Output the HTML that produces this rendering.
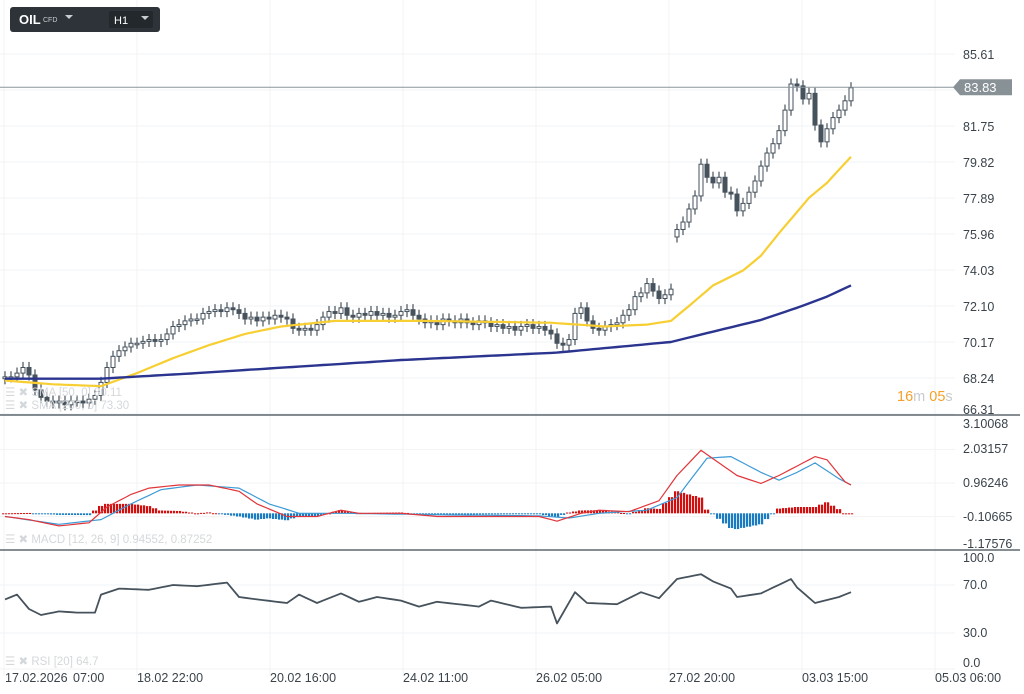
<!DOCTYPE html>
<html><head><meta charset="utf-8"><style>
body{margin:0;background:#fff;width:1024px;height:694px;overflow:hidden;font-family:"Liberation Sans",sans-serif}
svg{position:absolute;left:0;top:0}
</style></head><body>
<svg id="c" width="1024" height="694"></svg>
<script>
// ---- data ----
const closes=[68.3,68.3,68.5,68.8,68.4,
67.6,67.2,67.0,66.9,67.0,66.8,67.0,67.0,66.9,67.1,67.3,
68.0,68.8,69.4,69.7,69.9,
70.1,70.1,70.2,70.3,70.2,70.3,
70.6,71.0,71.1,71.3,71.4,71.4,
71.7,71.8,71.9,71.8,72.0,71.9,71.7,
71.4,71.5,71.3,71.5,71.4,71.6,71.5,71.4,
70.9,70.8,70.9,70.8,71.1,
71.5,71.8,71.7,72.0,71.6,
71.5,71.7,71.6,71.8,71.6,71.7,71.5,71.6,71.8,
71.9,71.6,71.4,
71.2,71.3,71.1,71.4,71.3,71.2,71.4,71.2,71.1,71.3,
71.2,71.0,71.1,70.9,71.0,70.8,71.0,71.1,70.9,71.0,70.8,70.6,
70.1,70.0,70.3,
71.7,72.0,71.3,
70.9,70.8,71.0,71.1,71.2,
71.6,71.9,72.6,72.8,
73.3,72.9,72.5,72.7,73.0,
76.2,76.6,77.3,
78.0,79.7,79.0,
78.7,79.0,78.2,78.1,
77.2,77.6,78.2,
78.8,79.6,80.3,80.8,
81.5,82.6,84.0,
83.9,83.2,83.5,
81.8,80.9,81.6,
82.2,82.6,83.1,83.8];
const gapOpens={112:75.8};
const smaIdx=[0,8,16,22,28,34,40,46,55,70,91,100,107,111,114,118,123,126,129,134,137,141];
const sma50=[68.1,67.9,67.8,68.5,69.3,70.0,70.6,71.0,71.3,71.3,71.2,71.0,71.1,71.3,72.1,73.2,74.0,74.8,76.0,77.9,78.7,80.1];
const sma200Idx=[0,16,32,66,92,111,119,126,132,137,141];
const sma200=[68.2,68.2,68.5,69.2,69.6,70.17,70.8,71.35,72.0,72.6,73.2];
const macdIdx=[0,4,9,14,17,21,24,29,34,39,42,47,52,56,59,66,72,82,89,92,96,99,104,109,112,116,119,122,126,129,135,137,140,141];
const macdVals=[-0.1,-0.2,-0.4,-0.3,0.2,0.6,0.8,0.9,0.9,0.7,0.3,-0.1,-0.1,0.1,0.0,0.0,-0.1,-0.1,-0.1,-0.25,0.0,0.1,0.05,0.4,1.2,2.0,1.6,1.2,0.95,1.2,1.8,1.7,1.0,0.9];
const sigIdx=[0,9,16,21,26,32,39,44,49,57,74,89,94,99,107,112,117,121,126,129,132,135,139,141];
const sigVals=[-0.1,-0.35,-0.2,0.3,0.75,0.9,0.8,0.3,0.0,0.0,-0.05,-0.08,-0.15,0.0,0.1,0.5,1.75,1.8,1.3,1.05,1.3,1.6,1.1,0.9];
const rsiIdx=[0,2,4,6,9,12,15,16,19,24,28,32,37,39,42,47,49,52,56,59,62,66,69,72,79,81,86,91,92,95,97,102,106,109,112,116,118,121,122,126,131,132,135,139,141];
const rsiVals=[58,62,50,45,48,47,47,62,67,66,70,69,72,60,58,55,62,55,63,56,60,57,52,56,52,57,51,52,38,64,55,54,64,59,75,79,73,67,60,63,75,68,55,60,64];
const priceTicks=["85.61","83.68","81.75","79.82","77.89","75.96","74.03","72.10","70.17","68.24","66.31"];
const macdTicks=["3.10068","2.03157","0.96246","-0.10665","-1.17576"];
const rsiTicks=["100.0","70.0","30.0","0.0"];
const timeLabels=["18.02 22:00","20.02 16:00","24.02 11:00","26.02 05:00","27.02 20:00","03.03 15:00","05.03 06:00"];
// ---- scales ----
const X=i=>5+i*6;
const PY=p=>54+(85.61-p)*18.65;
const MY=v=>483+(0.96246-v)*31.5;
const RY=v=>669-v*1.2;
const NS="http://www.w3.org/2000/svg";
const svg=document.getElementById('c');
function mk(tag,a,parent){const e=document.createElementNS(NS,tag);for(const k in a)e.setAttribute(k,a[k]);(parent||svg).appendChild(e);return e;}
function interp(idx,vals,i){if(i<=idx[0])return vals[0];for(let k=1;k<idx.length;k++){if(i<=idx[k]){const t=(i-idx[k-1])/(idx[k]-idx[k-1]);return vals[k-1]+t*(vals[k]-vals[k-1]);}}return vals[vals.length-1];}
// grid
const grid=mk('g',{});


for(let k=0;k<8;k++){mk('line',{x1:4+k*133,x2:4+k*133,y1:0,y2:676,stroke:'#f2f3f5'},grid);}
priceTicks.forEach(t=>{const y=PY(parseFloat(t));mk('line',{x1:0,x2:955,y1:y,y2:y,stroke:'#f2f3f5'},grid);});
macdTicks.slice(1,4).forEach(t=>{const y=MY(parseFloat(t));mk('line',{x1:0,x2:955,y1:y,y2:y,stroke:'#f2f3f5'},grid);});
rsiTicks.slice(1).forEach(t=>{const y=RY(parseFloat(t));mk('line',{x1:0,x2:955,y1:y,y2:y,stroke:'#f2f3f5'},grid);});
// candles
const cg=mk('g',{});


closes.forEach((c,i)=>{
  const o=gapOpens[i]!==undefined?gapOpens[i]:(i?closes[i-1]:c-0.1);
  const hi=Math.max(o,c)+0.3, lo=Math.min(o,c)-0.3;
  const x=X(i);
  mk('line',{x1:x,x2:x,y1:PY(hi),y2:PY(lo),stroke:'#46525c','stroke-width':1.2},cg);
  const top=PY(Math.max(o,c)),h=Math.max(1.5,Math.abs(PY(o)-PY(c)));
  const r=mk('rect',{x:x-2,y:top,width:4,height:h,fill:c>=o?'#fff':'#46525c',stroke:'#46525c','stroke-width':1},cg);
  
  
});
function line(idx,vals,Y,col,w,name){let d='';for(let i=0;i<closes.length;i++){d+=(i?'L':'M')+X(i)+','+Y(interp(idx,vals,i)).toFixed(1);}
  const p=mk('path',{d:d,fill:'none',stroke:col,'stroke-width':w,'stroke-linejoin':'round'});}
line(smaIdx,sma50,PY,'#f7cf33',2.2,'sma-50-line');
line(sma200Idx,sma200,PY,'#2b3590',2.4,'sma-200-line');
// macd hist
const hg=mk('g',{});


for(let i=0;i<closes.length;i++){
  const h=interp(macdIdx,macdVals,i)-interp(sigIdx,sigVals,i);
  for(let s=0;s<2;s++){const x=X(i)-3+s*3;const y0=MY(0),y1=MY(h);
    mk('rect',{x:x,y:Math.min(y0,y1),width:2.2,height:Math.max(1,Math.abs(y1-y0)),fill:h>=0?'#d10f0f':'#1a7bc0'},hg);}
}
line(sigIdx,sigVals,MY,'#3c9ad6',1.2,'macd-signal-line');
line(macdIdx,macdVals,MY,'#e0353a',1.2,'macd-line');
line(rsiIdx,rsiVals,RY,'#46525c',1.8,'rsi-line');
// price line
const pl=mk('line',{x1:0,x2:957,y1:PY(83.83),y2:PY(83.83),stroke:'#8a959c'});

const pb=mk('path',{d:`M953 ${PY(83.83)} L960 ${PY(83.83)-8} L1012 ${PY(83.83)-8} L1012 ${PY(83.83)+8} L960 ${PY(83.83)+8}Z`,fill:'#879196'});

const pt=mk('text',{x:964,y:PY(83.83)+5,fill:'#fff','font-size':13});pt.textContent='83.83';
// separators
[415,550].forEach(y=>{const l=mk('line',{x1:0,x2:1020,y1:y,y2:y,stroke:'#3e4a55','stroke-width':1.3});});
// axis labels
function txt(s,x,y,name,extra){const t=mk('text',Object.assign({x:x,y:y,fill:'#3a434b','font-size':12.5},extra||{}));t.textContent=s;return t;}
priceTicks.forEach(t=>{if(t==='83.68')return;let y=PY(parseFloat(t))+5;if(t==='66.31')y=414;txt(t,963,y,'price-tick');});
const my=[428,453,487,521,548];macdTicks.forEach((t,k)=>txt(t,963,my[k],'macd-tick'));
const ry=[562,589,637,667];rsiTicks.forEach((t,k)=>txt(t,963,ry[k],'rsi-tick'));
txt('17.02.2026',5,682,'time-label');txt('07:00',73,682,'time-label');
timeLabels.forEach((t,k)=>txt(t,137+k*133,682,'time-label'));
// countdown
const cd=mk('text',{x:897,y:401,'font-size':14.5,fill:'#f5a02a'});
cd.innerHTML='16<tspan fill="#c7cbcf">m</tspan> 05<tspan fill="#c7cbcf">s</tspan>';
// legends
txt('☰ ✖ SMA [50, 0] 80.11',5,396,'sma50-legend',{fill:'#d4d8db','font-size':11.5});
txt('☰ ✖ SMA [200, 0] 73.30',5,409,'sma200-legend',{fill:'#d4d8db','font-size':11.5});
txt('☰ ✖ MACD [12, 26, 9] 0.94552, 0.87252',5,543,'macd-legend',{fill:'#d4d8db','font-size':11.5});
txt('☰ ✖ RSI [20] 64.7',5,665,'rsi-legend',{fill:'#d4d8db','font-size':11.5});
// toolbar
const tb=mk('g',{});
mk('rect',{x:10,y:7,width:150,height:25,rx:3,fill:'#2d3338'},tb);
const s1=mk('text',{x:19,y:24,fill:'#fff','font-size':13,'font-weight':'bold'},tb);s1.textContent='OIL';
const s2=mk('text',{x:43,y:22,fill:'#c9cdd1','font-size':7},tb);s2.textContent='CFD';
mk('path',{d:'M65 15 L73 15 L69 19Z',fill:'#c9cdd1'},tb);
mk('rect',{x:109,y:11,width:44,height:17,rx:2,fill:'#22282c'},tb);
const s3=mk('text',{x:114,y:24,fill:'#fff','font-size':11},tb);s3.textContent='H1';
mk('path',{d:'M141 16 L149 16 L145 20Z',fill:'#c9cdd1'},tb);
</script>
</body></html>
